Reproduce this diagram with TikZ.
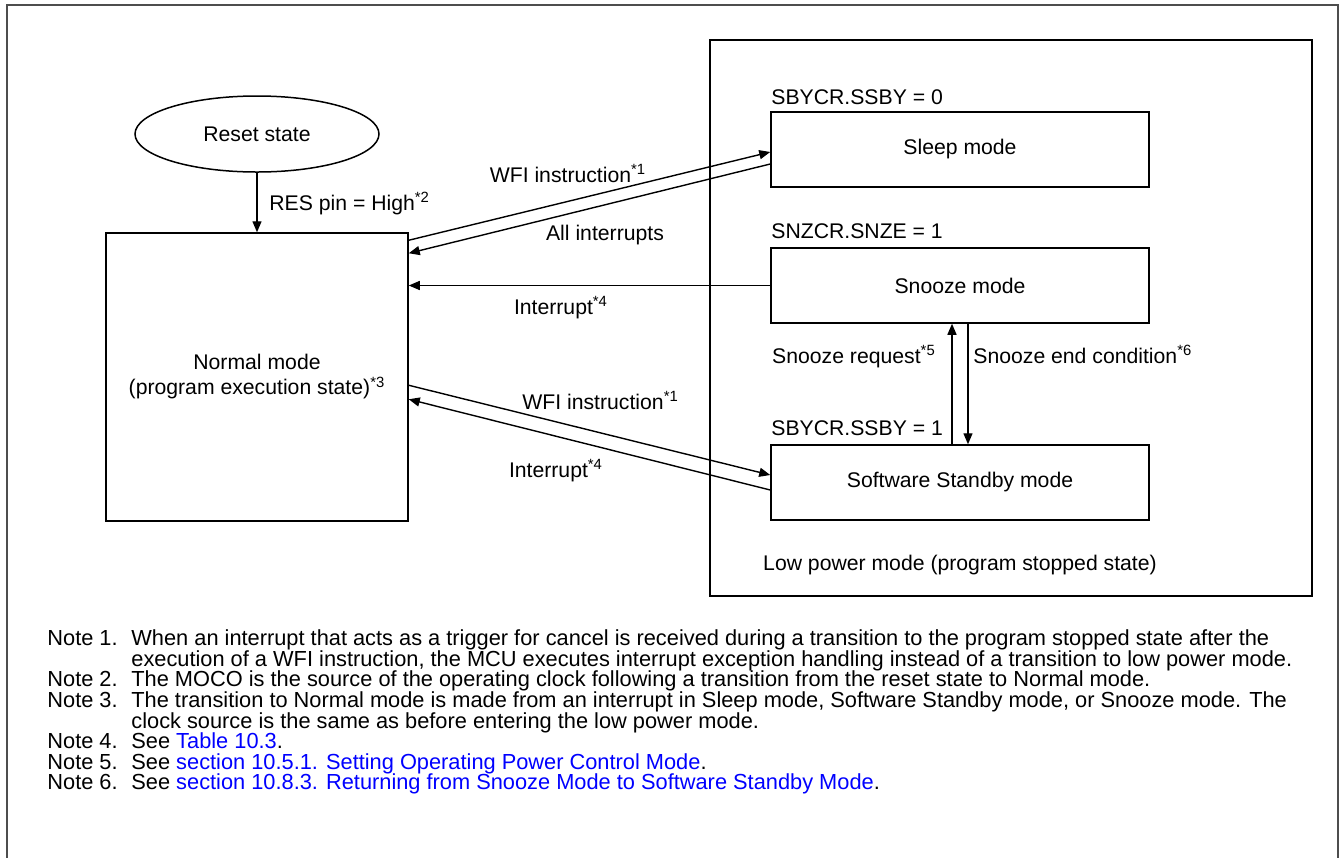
\documentclass[tikz,border=0pt]{standalone}
\usepackage{fontspec}
\setmainfont{Liberation Sans}
\usepackage{tikz}
\usetikzlibrary{positioning,arrows.meta,shapes.geometric,calc}
\usepackage{xcolor}
\definecolor{linkblue}{HTML}{0000FF}
\definecolor{framegray}{HTML}{4D4D4D}
\newcommand{\diagfont}{\fontsize{10.6pt}{12.5pt}\selectfont}
\newcommand{\notefont}{\fontsize{10.9pt}{10.3pt}\selectfont}

\begin{document}
\begin{tikzpicture}[x=0.5pt, y=-0.5pt,
    mode/.style={draw, line width=0.75pt, minimum width=189pt, minimum height=37.5pt, inner sep=0pt, font=\diagfont},
    tag/.style={inner sep=0pt, font=\diagfont, text height=7.6pt, text depth=0pt},
    note/.style={inner sep=0pt, anchor=base west, font=\notefont},
    arrow/.style={-{Triangle[length=5.5pt,width=4.5pt]}, line width=0.7pt},
]
\useasboundingbox (0,0) rectangle (1341,858);
\draw[framegray, line width=1pt] (7,866) -- (7,5) -- (1338,5) -- (1338,866);

\node[draw, line width=0.75pt, minimum width=301pt, minimum height=278pt] (lpm) at (1011,318) {};
\node[tag] (lpmlabel) at (960,563) {Low power mode (program stopped state)};

\node[draw, ellipse, line width=0.75pt, minimum width=122pt, minimum height=38pt, inner sep=0pt, font=\diagfont] (reset) at (257,134) {Reset state};
\node[draw, line width=0.75pt, minimum width=151pt, minimum height=144pt, align=center, font=\diagfont] (normal) at (257,377) {Normal mode\\(program execution state)\textsuperscript{*3}};

\node[mode] (sleep) at (960,149.5) {Sleep mode};
\node[mode] (snooze) at (960,285.5) {Snooze mode};
\node[mode] (standby) at (960,482.5) {Software Standby mode};

\node[tag, anchor=west] (ssby0) at (771,97) {SBYCR.SSBY = 0};
\node[tag, anchor=west] (snze1) at (771,231) {SNZCR.SNZE = 1};
\node[tag, anchor=west] (ssby1) at (771,428) {SBYCR.SSBY = 1};

\draw[arrow] (reset) -- (normal);
\draw[arrow] ([yshift=-4pt]normal.north east) -- ([yshift=-1.25pt]sleep.west);
\draw[arrow] ([yshift=-7.25pt]sleep.west) -- ([yshift=-10.5pt]normal.north east);
\draw[arrow] (snooze.west) -- (normal.east |- snooze.west);
\draw[arrow] ([yshift=-76.5pt]normal.north east) -- ([yshift=3.75pt]standby.west);
\draw[arrow] ([yshift=-3.75pt]standby.west) -- ([yshift=-83.5pt]normal.north east);
\draw[arrow] ([xshift=-4pt]standby.north) -- ([xshift=-4pt]snooze.south);
\draw[arrow] ([xshift=4pt]snooze.south) -- ([xshift=4pt]standby.north);

\node[tag, anchor=west] (res) at (269,203) {RES pin = High\textsuperscript{*2}};
\node[tag] (wfi1) at (568,175) {WFI instruction\textsuperscript{*1}};
\node[tag] (allint) at (605,233) {All interrupts};
\node[tag] (int1) at (561,307) {Interrupt\textsuperscript{*4}};
\node[tag, anchor=west] (wfi2) at (522,402) {WFI instruction\textsuperscript{*1}};
\node[tag] (int2) at (556,470) {Interrupt\textsuperscript{*4}};
\node[tag] (snzreq) at (854,356) {Snooze request\textsuperscript{*5}};
\node[tag, anchor=west] (snzend) at (973,356) {Snooze end condition\textsuperscript{*6}};

\foreach \y/\lbl/\txt [count=\i] in {
    645/{Note 1.}/{When an interrupt that acts as a trigger for cancel is received during a transition to the program stopped state after the},
    666/{}/{execution of a WFI instruction, the MCU executes interrupt exception handling instead of a transition to low power mode.},
    686/{Note 2.}/{The MOCO is the source of the operating clock following a transition from the reset state to Normal mode.},
    707/{Note 3.}/{The transition to Normal mode is made from an interrupt in Sleep mode, Software Standby mode, or Snooze mode. The},
    728/{}/{clock source is the same as before entering the low power mode.},
    748/{Note 4.}/{See \textcolor{linkblue}{Table 10.3}.},
    769/{Note 5.}/{See \textcolor{linkblue}{section 10.5.1. Setting Operating Power Control Mode}.},
    789/{Note 6.}/{See \textcolor{linkblue}{section 10.8.3. Returning from Snooze Mode to Software Standby Mode}.}} {
    \node[note] (notelbl\i) at (47,\y) {\lbl};
    \node[note] (notetxt\i) at (131,\y) {\txt};
}
\end{tikzpicture}
\end{document}
